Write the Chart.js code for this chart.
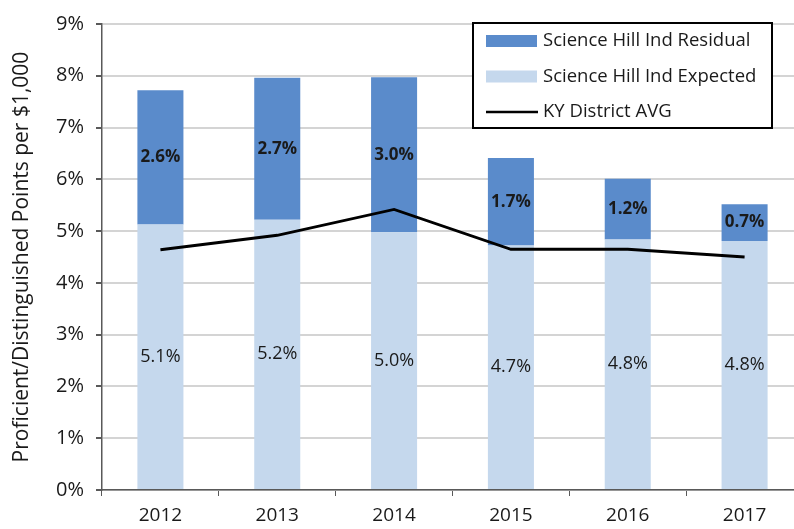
<!DOCTYPE html>
<html>
<head>
<meta charset="utf-8">
<script src="https://cdn.jsdelivr.net/npm/chart.js@4"></script>
<style>
  html, body { margin: 0; padding: 0; background: #fff; overflow: hidden; }
  .wrap { position: relative; width: 806px; height: 529px; }
</style>
</head>
<body>
<div class="wrap"><canvas id="chart"></canvas></div>
<script>
  // values (percent)
  var years = ['2012', '2013', '2014', '2015', '2016', '2017'];
  var expected = [5.13, 5.22, 4.98, 4.72, 4.84, 4.81];
  var residual = [2.59, 2.74, 2.99, 1.69, 1.17, 0.71];
  var districtAvg = [4.64, 4.92, 5.42, 4.65, 4.65, 4.50];
  var yTicks = [0, 1, 2, 3, 4, 5, 6, 7, 8, 9];

  var FONT = '"Open Sans", "Liberation Sans", sans-serif';
  var DARK = '#5a8bcb';
  var LIGHT = '#c5d8ed';

  // segment value labels, centred in each bar piece
  var barLabels = {
    id: 'barLabels',
    afterDatasetsDraw: function(chart) {
      var ctx = chart.ctx;
      ctx.save();
      ctx.textAlign = 'center';
      ctx.textBaseline = 'middle';
      ctx.fillStyle = '#1a1a1a';
      chart.data.datasets.forEach(function(ds, i) {
        if (ds.type === 'line') return;
        var meta = chart.getDatasetMeta(i);
        ctx.font = (ds.boldLabels ? 'bold 17px ' : '18px ') + FONT;
        meta.data.forEach(function(bar, j) {
          var mid = (bar.y + bar.base) / 2;
          ctx.fillText(ds.data[j].toFixed(1) + '%', bar.x, mid);
        });
      });
      ctx.restore();
    }
  };

  // boxed legend in the upper right of the plot
  var boxLegend = {
    id: 'boxLegend',
    afterDraw: function(chart) {
      var ctx = chart.ctx;
      var x = 473, y = 23, w = 299, h = 105;
      ctx.save();
      ctx.fillStyle = '#fff';
      ctx.fillRect(x, y, w, h);
      ctx.strokeStyle = '#000';
      ctx.lineWidth = 2;
      ctx.strokeRect(x, y, w, h);
      var ds = chart.data.datasets;
      var rows = [ds[1], ds[0], ds[2]];
      ctx.font = '18.5px ' + FONT;
      ctx.textBaseline = 'middle';
      rows.forEach(function(d, k) {
        var cy = y + 18 + k * 35.5;
        if (d.type === 'line') {
          ctx.strokeStyle = '#000';
          ctx.lineWidth = 2.5;
          ctx.beginPath();
          ctx.moveTo(486, cy);
          ctx.lineTo(538, cy);
          ctx.stroke();
        } else {
          ctx.fillStyle = d.backgroundColor;
          ctx.fillRect(486, cy - 6, 51, 12);
        }
        ctx.fillStyle = '#1a1a1a';
        ctx.fillText(d.label, 543, cy);
      });
      ctx.restore();
    }
  };

  new Chart(document.getElementById('chart'), {
    type: 'bar',
    data: {
      labels: years,
      datasets: [
        {
          label: 'Science Hill Ind Expected',
          data: expected,
          backgroundColor: LIGHT,
          stack: 'bars',
          order: 2,
          barPercentage: 0.394,
          categoryPercentage: 1
        },
        {
          label: 'Science Hill Ind Residual',
          data: residual,
          backgroundColor: DARK,
          stack: 'bars',
          order: 2,
          boldLabels: true,
          barPercentage: 0.394,
          categoryPercentage: 1
        },
        {
          type: 'line',
          label: 'KY District AVG',
          data: districtAvg,
          borderColor: '#000',
          borderWidth: 2.8,
          pointRadius: 0,
          tension: 0,
          stack: 'line',
          order: 1
        }
      ]
    },
    options: {
      responsive: true,
      maintainAspectRatio: false,
      animation: false,
      layout: { padding: { top: 13, right: 3, left: 0, bottom: 0 } },
      plugins: {
        legend: { display: false },
        tooltip: { enabled: false }
      },
      scales: {
        x: {
          stacked: true,
          grid: {
            offset: true,
            drawOnChartArea: false,
            tickLength: 6,
            tickColor: '#595959'
          },
          border: { color: '#595959', width: 1.5 },
          ticks: {
            color: '#1a1a1a',
            font: { family: FONT, size: 19 },
            padding: 8
          },
          afterFit: function(axis) { axis.height = 39; }
        },
        y: {
          stacked: true,
          min: 0,
          max: 9,
          afterBuildTicks: function(axis) {
            axis.ticks = yTicks.map(function(v) { return { value: v }; });
          },
          grid: {
            color: '#d4d4d4',
            lineWidth: 2,
            tickLength: 6,
            tickColor: '#595959'
          },
          border: { color: '#595959', width: 1.5 },
          ticks: {
            color: '#1a1a1a',
            font: { family: FONT, size: 20 },
            padding: 12,
            callback: function(v) { return v + '%'; }
          },
          title: {
            display: true,
            text: 'Proficient/Distinguished Points per $1,000',
            color: '#1a1a1a',
            font: { family: FONT, size: 21 },
            padding: { top: 9, bottom: 0 }
          },
          afterFit: function(axis) { axis.width = 102; }
        }
      }
    },
    plugins: [barLabels, boxLegend]
  });
</script>
</body>
</html>
